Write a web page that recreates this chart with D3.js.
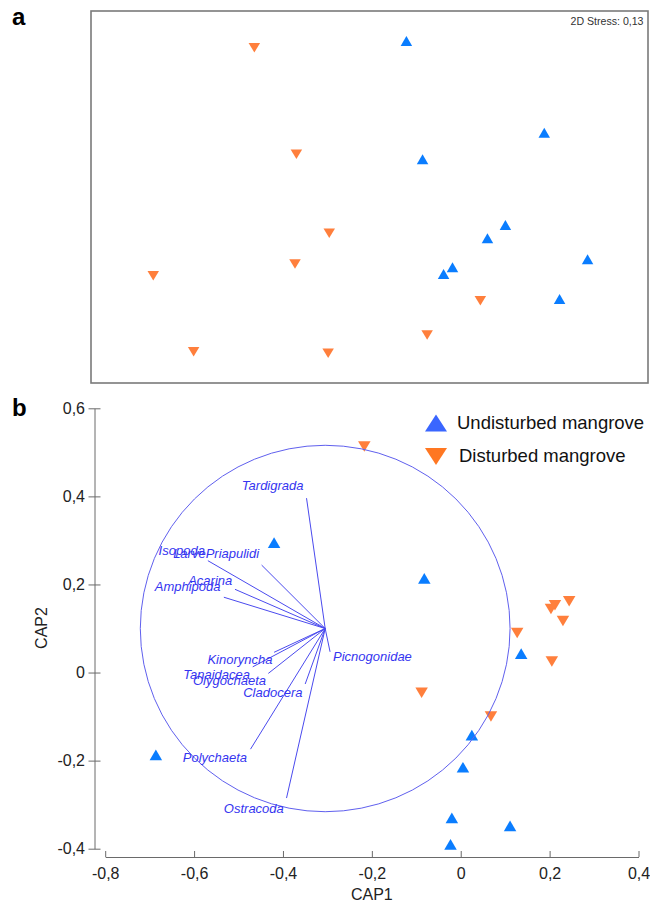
<!DOCTYPE html>
<html>
<head>
<meta charset="utf-8">
<style>
  body { margin: 0; background: #fff; }
  text { font-family: Arial, "Liberation Sans", sans-serif; }
</style>
</head>
<body>
<script src="https://d3js.org/d3.v7.min.js"></script>
<script>
  // panel a: nMDS ordination (arbitrary units)
  const nmdsUndisturbed = [
    [0.265, 1.120], [1.255, 0.462], [0.381, 0.271], [0.976, -0.201], [0.847, -0.297],
    [0.596, -0.505], [0.532, -0.553], [1.566, -0.447], [1.365, -0.733]
  ]
  const nmdsDisturbed = [
    [-0.827, 1.072], [-0.525, 0.307], [-0.289, -0.261], [-0.535, -0.481], [-1.553, -0.565],
    [0.796, -0.745], [0.414, -0.991], [-1.263, -1.111], [-0.297, -1.122]
  ]
  const stressLabel = '2D Stress: 0,13'

  // panel b: CAP ordination
  const capUndisturbed = [
    [-0.420, 0.295], [-0.082, 0.214], [0.136, 0.043], [0.025, -0.142], [0.005, -0.215],
    [-0.020, -0.330], [0.111, -0.348], [-0.023, -0.390], [-0.686, -0.187]
  ]
  const capDisturbed = [
    [-0.217, 0.513], [0.244, 0.162], [0.212, 0.153], [0.203, 0.144], [0.230, 0.117],
    [0.127, 0.090], [0.205, 0.025], [-0.088, -0.046], [0.068, -0.100]
  ]
  const vectorNames = ['Tardigrada', 'Picnogonidae', 'Isopoda', 'LarvePriapulidi', 'Acarina', 'Amphipoda',
    'Kinoryncha', 'Tanaidacea', 'Olygochaeta', 'Cladocera', 'Polychaeta', 'Ostracoda']
  const vectorCAP1 = [-0.347, -0.294, -0.569, -0.448, -0.508, -0.533, -0.420, -0.468, -0.433, -0.350, -0.473, -0.392]
  const vectorCAP2 = [0.396, 0.047, 0.254, 0.244, 0.189, 0.171, 0.046, 0.013, -0.002, -0.026, -0.174, -0.285]
  const vectorOrigin = [-0.305, 0.1]
  const circleRadius = 0.416

  const xTicks = [-0.8, -0.6, -0.4, -0.2, 0, 0.2, 0.4]
  const yTicks = [-0.4, -0.2, 0, 0.2, 0.4, 0.6]
  const groups = ['Undisturbed mangrove', 'Disturbed mangrove']

  const blue = '#0a7dff'
  const orange = '#ff7f3c'
  const vecBlue = '#3535f0'

  // label placement (px offsets from vector tip)
  const labelOffset = {
    Tardigrada: [-3, -8], Picnogonidae: [3, 9.5], Isopoda: [-3, -5.5], LarvePriapulidi: [-2.5, -7],
    Acarina: [-2.7, -4.3], Amphipoda: [-3.3, -6.3], Kinoryncha: [-1.6, 11.7], Tanaidacea: [-2.7, 12.3],
    Olygochaeta: [-2.3, 11.7], Cladocera: [-2.7, 12.7], Polychaeta: [-3.4, 13], Ostracoda: [-2.7, 14.7]
  }

  const svg = d3.select('body').append('svg')
    .attr('width', 650)
    .attr('height', 902)

  function tri(cx, cy, w, h, up) {
    return up
      ? `M${cx},${cy - h / 2}L${cx + w / 2},${cy + h / 2}L${cx - w / 2},${cy + h / 2}Z`
      : `M${cx},${cy + h / 2}L${cx + w / 2},${cy - h / 2}L${cx - w / 2},${cy - h / 2}Z`
  }

  // ---------- panel a ----------
  const ax = d3.scaleLinear().domain([-2, 2]).range([91, 648])
  const ay = d3.scaleLinear().domain([-1.336, 1.336]).range([383, 11])

  svg.append('text').attr('x', 12).attr('y', 25)
    .attr('font-size', 24).attr('font-weight', 'bold').text('a')

  svg.append('rect')
    .attr('x', ax(-2)).attr('y', ay(1.336))
    .attr('width', ax(2) - ax(-2)).attr('height', ay(-1.336) - ay(1.336))
    .attr('fill', 'none').attr('stroke', '#7a7a7a').attr('stroke-width', 1.6)

  svg.append('text').attr('x', 643.5).attr('y', 25.3)
    .attr('text-anchor', 'end').attr('font-size', 10.6).attr('fill', '#333')
    .text(stressLabel)

  svg.append('g').selectAll('path').data(nmdsDisturbed).enter().append('path')
    .attr('d', d => tri(ax(d[0]), ay(d[1]), 11.5, 9.5, false))
    .attr('fill', orange)
  svg.append('g').selectAll('path').data(nmdsUndisturbed).enter().append('path')
    .attr('d', d => tri(ax(d[0]), ay(d[1]), 11.5, 10, true))
    .attr('fill', blue)

  // ---------- panel b ----------
  const x = d3.scaleLinear().domain([-0.8, 0.4]).range([105.2, 638.5])
  const y = d3.scaleLinear().domain([-0.4, 0.6]).range([848.7, 408.3])
  const fmt = v => v === 0 ? '0' : d3.format('.1f')(v).replace('.', ',').replace('\u2212', '-')

  svg.append('text').attr('x', 12).attr('y', 416)
    .attr('font-size', 24).attr('font-weight', 'bold').text('b')

  const xAxis = svg.append('g')
    .attr('transform', 'translate(0, 857)')
    .call(d3.axisBottom(x).tickValues(xTicks).tickFormat(fmt).tickSizeInner(-6).tickSizeOuter(0).tickPadding(11))
  const yAxis = svg.append('g')
    .attr('transform', 'translate(94.5, 0)')
    .call(d3.axisLeft(y).tickValues(yTicks).tickFormat(fmt).tickSizeInner(6).tickSizeOuter(0).tickPadding(3.5))
  yAxis.selectAll('.tick line').attr('x1', 6)

  for (const g of [xAxis, yAxis]) {
    g.select('.domain').attr('stroke', '#6a6a6a')
    g.selectAll('.tick line').attr('stroke', '#6a6a6a')
    g.selectAll('.tick text').attr('font-size', 16).attr('fill', '#222')
      .attr('font-family', 'Arial, "Liberation Sans", sans-serif')
  }

  svg.append('text').attr('x', x(-0.2)).attr('y', 900)
    .attr('text-anchor', 'middle').attr('font-size', 16).attr('fill', '#222').text('CAP1')
  svg.append('text').attr('transform', 'translate(47, 628) rotate(-90)')
    .attr('text-anchor', 'middle').attr('font-size', 16).attr('fill', '#222').text('CAP2')

  // points
  svg.append('g').selectAll('path').data(capDisturbed).enter().append('path')
    .attr('d', d => tri(x(d[0]), y(d[1]), 12.5, 10.5, false))
    .attr('fill', orange)
  svg.append('g').selectAll('path').data(capUndisturbed).enter().append('path')
    .attr('d', d => tri(x(d[0]), y(d[1]), 12.5, 10.7, true))
    .attr('fill', blue)

  // correlation circle
  svg.append('ellipse')
    .attr('cx', x(vectorOrigin[0])).attr('cy', y(vectorOrigin[1]))
    .attr('rx', x(vectorOrigin[0] + circleRadius) - x(vectorOrigin[0]))
    .attr('ry', y(vectorOrigin[1]) - y(vectorOrigin[1] + circleRadius))
    .attr('fill', 'none').attr('stroke', '#6060ee').attr('stroke-width', 1)

  // vectors
  const vectors = vectorNames.map((name, i) => ({ name, c1: vectorCAP1[i], c2: vectorCAP2[i] }))
  svg.append('g').selectAll('line').data(vectors).enter().append('line')
    .attr('x1', x(vectorOrigin[0])).attr('y1', y(vectorOrigin[1]))
    .attr('x2', d => x(d.c1)).attr('y2', d => y(d.c2))
    .attr('stroke', '#4a4aee').attr('stroke-width', 1)
  svg.append('g').selectAll('text').data(vectors).enter().append('text')
    .attr('x', d => x(d.c1) + labelOffset[d.name][0])
    .attr('y', d => y(d.c2) + labelOffset[d.name][1])
    .attr('text-anchor', d => d.name === 'Picnogonidae' ? 'start' : 'end')
    .attr('font-size', 13).attr('font-style', 'italic').attr('fill', vecBlue)
    .text(d => d.name)

  // legend
  const legend = svg.append('g').attr('transform', 'translate(436, 423)')
  legend.append('path').attr('d', tri(0, 0, 22, 17, true)).attr('fill', '#3a66ff')
  legend.append('text').attr('x', 21).attr('y', 5.5).attr('font-size', 18.5).attr('fill', '#111').text(groups[0])
  legend.append('path').attr('d', tri(0, 33.5, 22, 17, false)).attr('fill', '#ff7722')
  legend.append('text').attr('x', 23).attr('y', 39).attr('font-size', 18.5).attr('fill', '#111').text(groups[1])
</script>
</body>
</html>
